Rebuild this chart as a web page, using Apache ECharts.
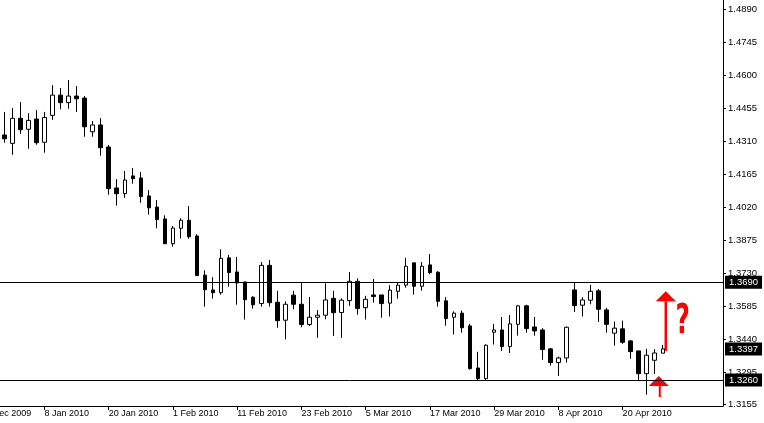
<!DOCTYPE html>
<html><head><meta charset="utf-8">
<script src="https://cdn.jsdelivr.net/npm/echarts@6/dist/echarts.min.js"></script>
<style>html,body{margin:0;padding:0;background:#fff;overflow:hidden;width:764px;height:423px;position:relative}
#c{position:absolute;left:-24px;top:0;width:788px;height:423px}</style>
</head><body><div id="c"></div>
<script>
// ---------- data ----------
const leadDates = ['29 Dec 2009','30 Dec 2009','31 Dec 2009'];
const dates = [
 '1 Jan 2010','4 Jan 2010','5 Jan 2010','6 Jan 2010','7 Jan 2010','8 Jan 2010',
 '11 Jan 2010','12 Jan 2010','13 Jan 2010','14 Jan 2010','15 Jan 2010',
 '18 Jan 2010','19 Jan 2010','20 Jan 2010','21 Jan 2010','22 Jan 2010',
 '25 Jan 2010','26 Jan 2010','27 Jan 2010','28 Jan 2010','29 Jan 2010',
 '1 Feb 2010','2 Feb 2010','3 Feb 2010','4 Feb 2010','5 Feb 2010',
 '8 Feb 2010','9 Feb 2010','10 Feb 2010','11 Feb 2010','12 Feb 2010',
 '15 Feb 2010','16 Feb 2010','17 Feb 2010','18 Feb 2010','19 Feb 2010',
 '22 Feb 2010','23 Feb 2010','24 Feb 2010','25 Feb 2010','26 Feb 2010',
 '1 Mar 2010','2 Mar 2010','3 Mar 2010','4 Mar 2010','5 Mar 2010',
 '8 Mar 2010','9 Mar 2010','10 Mar 2010','11 Mar 2010','12 Mar 2010',
 '15 Mar 2010','16 Mar 2010','17 Mar 2010','18 Mar 2010','19 Mar 2010',
 '22 Mar 2010','23 Mar 2010','24 Mar 2010','25 Mar 2010','26 Mar 2010',
 '29 Mar 2010','30 Mar 2010','31 Mar 2010',
 '1 Apr 2010','2 Apr 2010',
 '5 Apr 2010','6 Apr 2010','7 Apr 2010','8 Apr 2010','9 Apr 2010',
 '12 Apr 2010','13 Apr 2010','14 Apr 2010','15 Apr 2010','16 Apr 2010',
 '19 Apr 2010','20 Apr 2010','21 Apr 2010','22 Apr 2010','23 Apr 2010',
 '26 Apr 2010','27 Apr 2010'];
const futureSlots = ['','','','','','',''];

const opens = [
 1.4337,1.4300,1.4410,1.4362,1.4407,1.4305,1.4423,1.4512,1.4479,1.4508,
 1.4499,1.4351,1.4381,1.4284,1.4104,1.4079,1.4157,1.4148,1.4069,1.4020,
 1.3968,1.3859,1.3927,1.3962,1.3893,1.3721,1.3656,1.3644,1.3797,1.3735,
 1.3691,1.3624,1.3596,1.3764,1.3602,1.3523,1.3633,1.3593,1.3504,1.3536,
 1.3545,1.3619,1.3557,1.3609,1.3694,1.3578,1.3634,1.3634,1.3598,1.3650,
 1.3677,1.3775,1.3672,1.3766,1.3734,1.3608,1.3536,1.3554,1.3498,1.3313,
 1.3266,1.3470,1.3480,1.3407,1.3505,1.3586,1.3493,1.3480,1.3397,1.3337,
 1.3357,1.3656,1.3589,1.3611,1.3652,1.3568,1.3466,1.3485,1.3432,1.3388,
 1.3288,1.3347,1.3378];
const closes = [
 1.4320,1.4410,1.4360,1.4401,1.4303,1.4414,1.4512,1.4479,1.4508,1.4496,
 1.4373,1.4381,1.4281,1.4101,1.4079,1.4139,1.4145,1.4066,1.4017,1.3965,
 1.3859,1.3928,1.3962,1.3890,1.3719,1.3657,1.3644,1.3795,1.3732,1.3687,
 1.3613,1.3591,1.3764,1.3600,1.3521,1.3593,1.3593,1.3504,1.3536,1.3545,
 1.3612,1.3556,1.3611,1.3694,1.3574,1.3615,1.3627,1.3596,1.3655,1.3677,
 1.3760,1.3672,1.3760,1.3732,1.3606,1.3530,1.3554,1.3490,1.3310,1.3266,
 1.3413,1.3480,1.3407,1.3507,1.3586,1.3486,1.3476,1.3394,1.3337,1.3357,
 1.3492,1.3587,1.3612,1.3650,1.3571,1.3505,1.3488,1.3426,1.3385,1.3288,
 1.3369,1.3379,1.3397];
const lows = [
 1.4303,1.4250,1.4342,1.4276,1.4294,1.4259,1.4403,1.4450,1.4452,1.4438,
 1.4329,1.4329,1.4246,1.4074,1.4026,1.4061,1.4123,1.4039,1.3987,1.3927,
 1.3858,1.3846,1.3882,1.3881,1.3717,1.3583,1.3618,1.3635,1.3670,1.3591,
 1.3526,1.3574,1.3583,1.3583,1.3490,1.3439,1.3571,1.3492,1.3498,1.3446,
 1.3527,1.3454,1.3445,1.3586,1.3547,1.3526,1.3600,1.3534,1.3539,1.3618,
 1.3666,1.3635,1.3653,1.3725,1.3583,1.3499,1.3460,1.3468,1.3306,1.3259,
 1.3261,1.3416,1.3388,1.3379,1.3455,1.3468,1.3455,1.3349,1.3324,1.3278,
 1.3337,1.3559,1.3539,1.3593,1.3515,1.3468,1.3411,1.3419,1.3353,1.3261,
 1.3196,1.3287,1.3378];
const highs = [
 1.4438,1.4455,1.4482,1.4433,1.4446,1.4438,1.4556,1.4543,1.4578,1.4552,
 1.4508,1.4398,1.4411,1.4293,1.4143,1.4179,1.4192,1.4174,1.4095,1.4051,
 1.3984,1.3937,1.3971,1.4025,1.3901,1.3742,1.3712,1.3835,1.3810,1.3801,
 1.3692,1.3628,1.3779,1.3788,1.3652,1.3606,1.3652,1.3690,1.3625,1.3568,
 1.3685,1.3652,1.3619,1.3735,1.3707,1.3630,1.3704,1.3634,1.3677,1.3690,
 1.3797,1.3775,1.3779,1.3814,1.3738,1.3624,1.3562,1.3565,1.3507,1.3384,
 1.3417,1.3507,1.3537,1.3546,1.3590,1.3591,1.3537,1.3488,1.3401,1.3363,
 1.3495,1.3691,1.3624,1.3678,1.3660,1.3577,1.3517,1.3521,1.3436,1.3388,
 1.3397,1.3396,1.3414];

const resistance = 1.3690;
const support = 1.3260;
const yTicks = [1.3155,1.3295,1.3440,1.3585,1.3730,1.3875,1.4020,1.4165,1.4310,1.4455,1.4600,1.4745,1.4890];
const xTickLabels = ['29 Dec 2009','8 Jan 2010','20 Jan 2010','1 Feb 2010','11 Feb 2010','23 Feb 2010','5 Mar 2010','17 Mar 2010','29 Mar 2010','8 Apr 2010','20 Apr 2010'];

// ---------- build ----------
const categories = leadDates.concat(dates, futureSlots);
const candles = leadDates.map(() => '-').concat(
  dates.map((d, i) => [opens[i], closes[i], lows[i], highs[i]]));
const lastClose = closes[closes.length - 1];
const FONT = 'Liberation Sans';

const chart = echarts.init(document.getElementById('c'), null, {renderer: 'canvas'});
const showTick = (idx, val) => xTickLabels.includes(val);
chart.setOption({
  animation: false,
  backgroundColor: '#ffffff',
  grid: {left: 0.2, right: 41, top: 0, bottom: 17, containLabel: false},
  xAxis: {
    type: 'category', data: categories, boundaryGap: true,
    axisLine: {show: true, lineStyle: {color: '#000', width: 1}},
    axisTick: {show: true, alignWithLabel: true, interval: showTick, length: 4, lineStyle: {color: '#000'}},
    axisLabel: {interval: showTick, align: 'left', margin: 3, color: '#000', fontFamily: FONT, fontSize: 9},
    splitLine: {show: false}
  },
  yAxis: {
    type: 'value', position: 'right', min: 1.3146, max: 1.4930, scale: true,
    axisLine: {show: true, lineStyle: {color: '#000', width: 1}},
    axisTick: {show: true, length: 3, customValues: yTicks, lineStyle: {color: '#000'}},
    axisLabel: {customValues: yTicks, margin: 5, color: '#000', fontFamily: FONT, fontSize: 9.5,
      formatter: v => v.toFixed(4)},
    splitLine: {show: false}
  },
  series: [{
    type: 'candlestick',
    data: candles,
    barWidth: 4,
    clip: false,
    itemStyle: {color: '#ffffff', color0: '#000000', borderColor: '#000000', borderColor0: '#000000', borderWidth: 1},
    markLine: {
      silent: true, symbol: 'none', animation: false, precision: 4,
      lineStyle: {color: '#000', width: 1, type: 'solid'},
      label: {position: 'end', distance: 2, color: '#fff', backgroundColor: '#000',
        padding: [2, 4, 1, 4], fontFamily: FONT, fontSize: 9.5,
        formatter: p => Number(p.value).toFixed(4)},
      data: [
        {yAxis: resistance},
        {yAxis: support},
        {yAxis: lastClose, lineStyle: {color: 'rgba(0,0,0,0)'}}
      ]
    }
  }]
});

// ---------- annotations (anchored to data via the axes) ----------
const lastName = dates[dates.length - 1];
const prevName = dates[dates.length - 2];
const pLast = chart.convertToPixel({gridIndex: 0}, [lastName, lastClose]);
const pPrev = chart.convertToPixel({gridIndex: 0}, [prevName, lastClose]);
const resY = chart.convertToPixel({yAxisIndex: 0}, resistance);
const supY = chart.convertToPixel({yAxisIndex: 0}, support);
const sx = pLast[0] + 3;
const apexY = resY + 9, baseY = apexY + 10;
const mx = (pLast[0] + pPrev[0]) / 2;
const red = '#ff0000';
chart.setOption({
  graphic: [
    {type: 'line', shape: {x1: sx, y1: pLast[1] + 2, x2: sx, y2: baseY}, style: {stroke: red, lineWidth: 2.5}},
    {type: 'polygon', shape: {points: [[sx, apexY], [sx - 10, baseY], [sx + 10, baseY]]}, style: {fill: red}},
    {type: 'text', x: sx + 17, y: pLast[1] - 26, scaleX: 0.62,
      style: {text: '?', fill: red, font: 'bold 40px "DejaVu Sans"', textAlign: 'center', textVerticalAlign: 'middle'}},
    {type: 'polygon', shape: {points: [[mx, supY - 4], [mx - 10, supY + 6], [mx + 10, supY + 6]]}, style: {fill: red}},
    {type: 'line', shape: {x1: mx + 1, y1: supY + 6, x2: mx + 1, y2: supY + 17}, style: {stroke: red, lineWidth: 2}}
  ]
});
</script>
</body></html>
